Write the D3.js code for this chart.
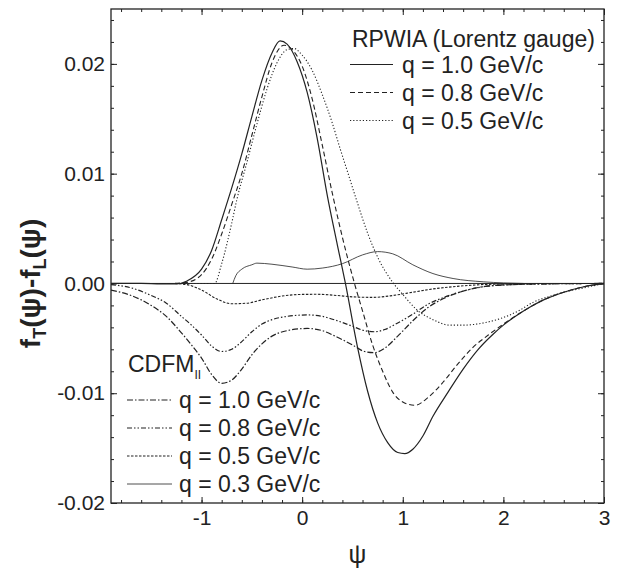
<!DOCTYPE html>
<html><head><meta charset="utf-8">
<script src="https://cdn.jsdelivr.net/npm/d3@7/dist/d3.min.js"></script>
<style>
body{margin:0;background:#fff}
svg{display:block}
text{font-family:Arial,"Liberation Sans",Helvetica,sans-serif;fill:#222}
</style>
</head><body>
<svg id="chart" width="627" height="573"></svg>
<script>
// ---------- DATA (psi, fT - fL) ----------
const rpwia10 = [[-1.9,0],[-1.6,0],[-1.4,-0.00005],[-1.25,-0.00005],[-1.15,0.0002],[-1.0,0.0013],[-0.9,0.0030],[-0.8,0.0058],[-0.7,0.0087],[-0.6,0.0118],[-0.5,0.0152],[-0.4,0.0185],[-0.3,0.0210],[-0.22,0.0221],[-0.15,0.0218],[-0.05,0.0202],[0.05,0.0174],[0.15,0.0132],[0.25,0.0080],[0.35,0.0035],[0.43,0.0],[0.55,-0.0058],[0.65,-0.0098],[0.75,-0.0127],[0.85,-0.0145],[0.95,-0.0154],[1.02,-0.0155],[1.1,-0.0151],[1.2,-0.0139],[1.3,-0.0121],[1.45,-0.0099],[1.6,-0.0078],[1.75,-0.0060],[1.9,-0.0046],[2.0,-0.0038],[2.2,-0.0025],[2.4,-0.0015],[2.6,-0.0008],[2.8,-0.0003],[3.0,0]];
const rpwia08 = [[-1.9,0],[-1.3,0],[-1.15,0.0001],[-1.0,0.0008],[-0.9,0.0022],[-0.8,0.0045],[-0.7,0.0072],[-0.6,0.0100],[-0.5,0.0135],[-0.4,0.0170],[-0.3,0.0201],[-0.18,0.0217],[-0.1,0.0213],[0.0,0.0198],[0.1,0.0168],[0.2,0.0126],[0.3,0.0082],[0.4,0.0042],[0.52,0.0],[0.6,-0.0025],[0.7,-0.0056],[0.8,-0.0080],[0.9,-0.0099],[1.0,-0.0108],[1.12,-0.0111],[1.25,-0.0104],[1.4,-0.0090],[1.55,-0.0073],[1.7,-0.0058],[1.85,-0.0047],[2.0,-0.0037],[2.2,-0.0025],[2.4,-0.0015],[2.6,-0.0008],[2.8,-0.0003],[3.0,0]];
const rpwia05 = [[-1.9,0],[-0.87,0],[-0.8,0.0018],[-0.7,0.0055],[-0.65,0.0076],[-0.55,0.0110],[-0.45,0.0145],[-0.35,0.0177],[-0.25,0.0201],[-0.15,0.0213],[-0.08,0.0214],[0.0,0.0208],[0.1,0.0194],[0.2,0.0172],[0.3,0.0146],[0.38,0.0122],[0.45,0.0102],[0.54,0.0076],[0.65,0.0046],[0.75,0.0024],[0.9,0.0001],[1.0,-0.0010],[1.14,-0.0024],[1.3,-0.0033],[1.47,-0.0038],[1.6,-0.0038],[1.8,-0.0036],[1.97,-0.0032],[2.15,-0.0025],[2.3,-0.0017],[2.45,-0.0012],[2.6,-0.0008],[2.8,-0.0004],[3.0,0]];
const cdfm10 = [[-1.9,-0.0006],[-1.7,-0.0011],[-1.5,-0.0020],[-1.35,-0.0030],[-1.2,-0.0045],[-1.1,-0.0056],[-1.0,-0.0068],[-0.9,-0.0083],[-0.8,-0.0091],[-0.7,-0.0088],[-0.6,-0.0078],[-0.5,-0.0065],[-0.4,-0.0055],[-0.3,-0.0048],[-0.15,-0.0043],[0.05,-0.0041],[0.2,-0.0043],[0.35,-0.0049],[0.5,-0.0056],[0.62,-0.0062],[0.72,-0.0063],[0.82,-0.0059],[0.95,-0.0048],[1.1,-0.0034],[1.25,-0.0022],[1.4,-0.0014],[1.6,-0.0007],[1.8,-0.0003],[2.1,-0.0001],[2.5,-0.00003],[3.0,0]];
const cdfm08 = [[-1.9,-0.0001],[-1.7,-0.0004],[-1.5,-0.0011],[-1.35,-0.0018],[-1.2,-0.0030],[-1.1,-0.0038],[-1.0,-0.0047],[-0.9,-0.0057],[-0.8,-0.0062],[-0.7,-0.0060],[-0.6,-0.0053],[-0.5,-0.0044],[-0.4,-0.0037],[-0.3,-0.0033],[-0.15,-0.0030],[0.05,-0.00287],[0.2,-0.0030],[0.35,-0.0034],[0.5,-0.0039],[0.62,-0.0043],[0.72,-0.0044],[0.82,-0.0042],[0.95,-0.0036],[1.1,-0.0028],[1.25,-0.0019],[1.4,-0.0013],[1.6,-0.0007],[1.8,-0.0003],[2.1,-0.0001],[2.5,-0.00003],[3.0,0]];
const cdfm05 = [[-1.9,0],[-1.3,0],[-1.15,-0.0001],[-1.0,-0.0006],[-0.85,-0.0014],[-0.7,-0.00185],[-0.55,-0.0018],[-0.4,-0.0015],[-0.2,-0.00115],[0.0,-0.0010],[0.15,-0.00099],[0.35,-0.0011],[0.5,-0.00122],[0.7,-0.00127],[0.9,-0.0011],[1.1,-0.0008],[1.3,-0.0005],[1.5,-0.0003],[1.8,-0.0001],[2.2,-0.00003],[3.0,0]];
const cdfm03 = [[-0.69,0],[-0.66,0.0007],[-0.6,0.0013],[-0.5,0.0017],[-0.45,0.00185],[-0.3,0.00175],[-0.1,0.0015],[0.05,0.0013],[0.2,0.0014],[0.4,0.0018],[0.6,0.0026],[0.75,0.0029],[0.9,0.0027],[1.1,0.0017],[1.3,0.0009],[1.5,0.00045],[1.8,0.00015],[2.0,0.00005],[2.2,0]];

const xTicksMajor = [-1, 0, 1, 2, 3];
const yTicksMajor = [-0.02, -0.01, 0.00, 0.01, 0.02];
const rpwiaLabels = ["q = 1.0 GeV/c", "q = 0.8 GeV/c", "q = 0.5 GeV/c"];
const cdfmLabels = ["q = 1.0 GeV/c", "q = 0.8 GeV/c", "q = 0.5 GeV/c", "q = 0.3 GeV/c"];

// ---------- LAYOUT ----------
const svg = d3.select("#chart");
const L = 111, R = 604, T = 9, B = 503;
const x = d3.scaleLinear().domain([-1.9, 3.0]).range([L, R]);
const y = d3.scaleLinear().domain([-0.02, 0.025]).range([B, T]);
const ink = "#222";

const series = [
  {data: rpwia10, dash: null, w: 1.2},
  {data: rpwia08, dash: "5,3", w: 1.1},
  {data: rpwia05, dash: "1.2,2", w: 1.1},
  {data: cdfm10, dash: "6,2,1.5,2", w: 1.2},
  {data: cdfm08, dash: "5,2,1.5,2,1.5,2", w: 1.2},
  {data: cdfm05, dash: "2.5,1.5", w: 1.1},
  {data: cdfm03, dash: null, w: 0.8}
];

const g = svg.append("g");
g.append("clipPath").attr("id","clip").append("rect").attr("x",L).attr("y",T).attr("width",R-L).attr("height",B-T);

g.append("line").attr("x1",x(-1.9)).attr("x2",x(3.0)).attr("y1",y(0)).attr("y2",y(0))
  .attr("stroke",ink).attr("stroke-width",1);

const line = d3.line().x(d=>x(d[0])).y(d=>y(d[1])).curve(d3.curveMonotoneX);
const plot = g.append("g").attr("clip-path","url(#clip)");
series.forEach(s=>{
  plot.append("path").attr("d", line(s.data)).attr("fill","none")
    .attr("stroke",ink).attr("stroke-width",s.w)
    .attr("stroke-dasharray", s.dash);
});

// ---------- AXES ----------
const hy = f => d => f(d).replace("\u2212","-");
const xMinor = d3.range(-1.8, 3.0001, 0.2).map(v=>+v.toFixed(1));
const yMinor = d3.range(-0.02, 0.0250001, 0.002).map(v=>+v.toFixed(3));
const ax = g.append("g").attr("stroke",ink).attr("stroke-width",1);
ax.append("g").attr("transform",`translate(0,${B})`).call(d3.axisBottom(x).tickValues(xMinor).tickSize(-3).tickFormat(""));
ax.append("g").attr("transform",`translate(0,${B})`).call(d3.axisBottom(x).tickValues(xTicksMajor).tickSize(-6).tickPadding(7).tickFormat(hy(d3.format("d"))));
ax.append("g").attr("transform",`translate(0,${T})`).call(d3.axisTop(x).tickValues(xMinor).tickSize(-3).tickFormat(""));
ax.append("g").attr("transform",`translate(0,${T})`).call(d3.axisTop(x).tickValues(xTicksMajor).tickSize(-6).tickFormat(""));
ax.append("g").attr("transform",`translate(${L},0)`).call(d3.axisLeft(y).tickValues(yMinor).tickSize(-3).tickFormat(""));
ax.append("g").attr("transform",`translate(${L},0)`).call(d3.axisLeft(y).tickValues(yTicksMajor).tickSize(-6).tickPadding(6).tickFormat(hy(d3.format(".2f"))));
ax.append("g").attr("transform",`translate(${R},0)`).call(d3.axisRight(y).tickValues(yMinor).tickSize(-3).tickFormat(""));
ax.append("g").attr("transform",`translate(${R},0)`).call(d3.axisRight(y).tickValues(yTicksMajor).tickSize(-6).tickFormat(""));
ax.selectAll(".domain").remove();
ax.selectAll(".tick line").attr("stroke",ink);
ax.selectAll("text").attr("stroke","none").attr("fill",ink).style("font-size","21px")
  .style("font-family","Arial, 'Liberation Sans', sans-serif");
g.append("rect").attr("x",L).attr("y",T).attr("width",R-L).attr("height",B-T)
  .attr("fill","none").attr("stroke",ink).attr("stroke-width",1.3);

// axis titles
svg.append("text").attr("x", (L+R)/2).attr("y", 563).attr("text-anchor","middle")
  .style("font-size","25px").text("ψ");
const yl = svg.append("text").attr("transform",`translate(40,${y(0.0)}) rotate(-90)`)
  .attr("text-anchor","middle").style("font-size","28px").style("font-weight","bold");
yl.append("tspan").text("f");
yl.append("tspan").attr("dy",6).style("font-size","18px").text("T");
yl.append("tspan").attr("dy",-6).text("(ψ)-f");
yl.append("tspan").attr("dy",6).style("font-size","18px").text("L");
yl.append("tspan").attr("dy",-6).text("(ψ)");

// ---------- LEGENDS ----------
const lg1 = svg.append("g");
lg1.append("text").attr("x",352).attr("y",47).style("font-size","23px").text("RPWIA (Lorentz gauge)");
rpwiaLabels.forEach((t,i)=>{
  const yy = 64.5 + i*28, s = series[i];
  lg1.append("line").attr("x1",350).attr("x2",393).attr("y1",yy).attr("y2",yy)
    .attr("stroke",ink).attr("stroke-width",s.w).attr("stroke-dasharray",s.dash);
  lg1.append("text").attr("x",402).attr("y",yy+8).style("font-size","23px").text(t);
});
const lg2 = svg.append("g");
const ct = lg2.append("text").attr("x",128).attr("y",372).style("font-size","23px");
ct.append("tspan").text("CDFM");
ct.append("tspan").attr("dy",7).style("font-size","12px").text("II");
cdfmLabels.forEach((t,i)=>{
  const yy = 400 + i*28, s = series[3+i];
  lg2.append("line").attr("x1",127).attr("x2",172).attr("y1",yy).attr("y2",yy)
    .attr("stroke",ink).attr("stroke-width",s.w).attr("stroke-dasharray",s.dash);
  lg2.append("text").attr("x",179).attr("y",yy+8).style("font-size","23px").text(t);
});
</script>
</body></html>
